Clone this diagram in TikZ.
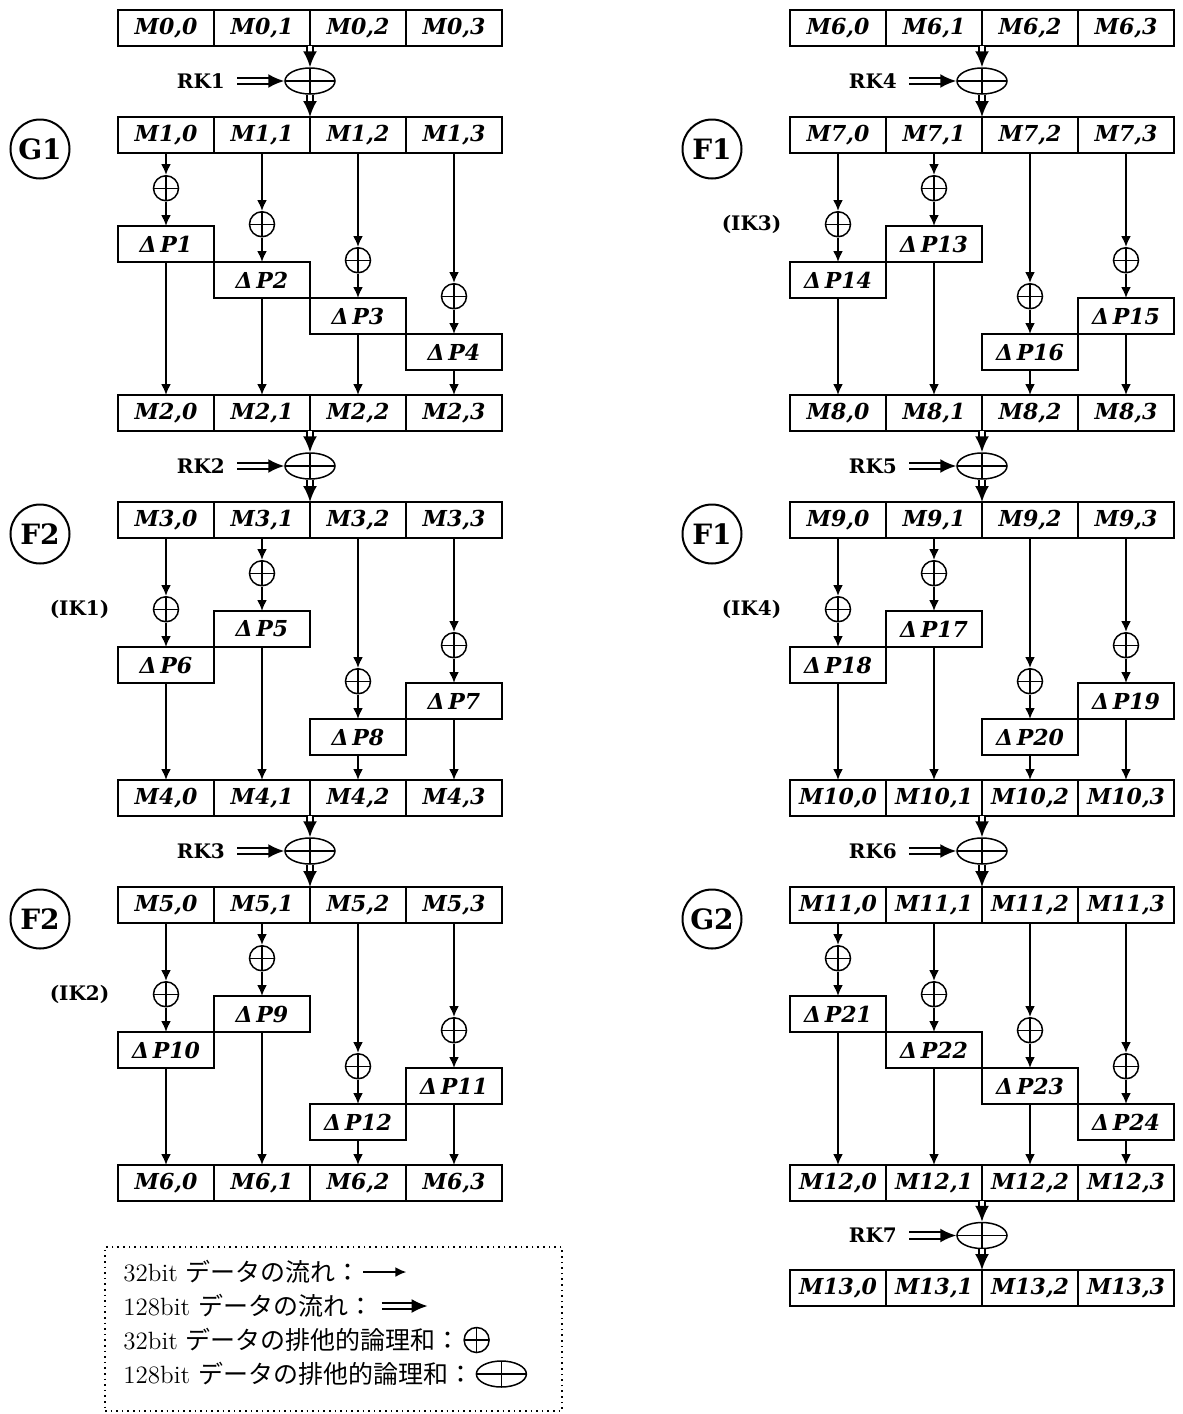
\documentclass[tikz,border=0pt]{standalone}
\usepackage{fontspec}
\newfontfamily\cellfont{DejaVu Serif}
\newfontfamily\cjk{Noto Sans CJK JP}
\usetikzlibrary{arrows.meta,shapes.geometric,positioning}
\tikzset{>={Latex[length=5.5pt,width=5pt]}}
\tikzset{
  cell/.style={draw, line width=1pt, minimum width=48pt, minimum height=18pt,
    inner sep=0pt, outer sep=0pt,
    font=\cellfont\bfseries\itshape\fontsize{11}{13}\selectfont},
  dpbox/.style={cell},
  xor/.style={draw, circle, line width=0.75pt, minimum size=12.5pt, inner sep=0pt,
    path picture={\draw[line width=0.75pt]
      (path picture bounding box.north) -- (path picture bounding box.south)
      (path picture bounding box.west) -- (path picture bounding box.east);}},
  bigxor/.style={xor, ellipse, minimum width=25pt, minimum height=13pt},
  arr/.style={->, line width=1pt},
  dblarr/.style={-{Latex[length=8pt,width=7pt]}, double, double distance=2.2pt,
    line width=1pt},
  rnd/.style={draw, circle, line width=1pt, minimum size=29.5pt, inner sep=0pt,
    font=\cellfont\bfseries\fontsize{14}{16}\selectfont},
  keylab/.style={inner sep=0pt, font=\cellfont\bfseries\fontsize{10}{12}\selectfont},
  legtxt/.style={inner sep=0pt, anchor=west, font=\fontsize{12.5}{14}\selectfont},
}

\begin{document}
\begin{tikzpicture}[x=0.5pt, y=-0.5pt]
\useasboundingbox (0,0) rectangle (1183,1414);
% data rows, left and right
\foreach \r/\t in {0/10,1/117,2/395,3/502,4/780,5/887,6/1165}
  \foreach \c in {0,...,3}
    \node[cell] (a\r-\c) at ({166+96*\c},{\t+18}) {M\r,\c};
\foreach \r/\t in {6/10,7/117,8/395,9/502,10/780,11/887,12/1165,13/1270}
  \foreach \c in {0,...,3}
    \node[cell] (b\r-\c) at ({838+96*\c},{\t+18}) {M\r,\c};
% rounds: column/level/number of each delta box
\foreach \s/\x/\r/\q/\t/\lst in {
    a/166/1/2/117/{0/0/1,1/1/2,2/2/3,3/3/4},
    a/166/3/4/502/{1/0/5,0/1/6,3/2/7,2/3/8},
    a/166/5/6/887/{1/0/9,0/1/10,3/2/11,2/3/12},
    b/838/7/8/117/{1/0/13,0/1/14,3/2/15,2/3/16},
    b/838/9/10/502/{1/0/17,0/1/18,3/2/19,2/3/20},
    b/838/11/12/887/{0/0/21,1/1/22,2/2/23,3/3/24}}
  \foreach \c/\l/\p in \lst {
    \node[dpbox] (dp\p) at ({\x+96*\c},{\t+127+36*\l}) {Δ\thinspace P\p};
    \node[xor, above=12.25pt of dp\p] (x\p) {};
    \draw[arr] (\s\r-\c) -- (x\p);
    \draw[arr] (x\p) -- (dp\p);
    \draw[arr] (dp\p) -- (\s\q-\c);
  }
% round keys
\foreach \s/\x/\r/\q/\y/\k in {a/310/0/1/81/1, a/310/2/3/466/2, a/310/4/5/851/3,
    b/982/6/7/81/4, b/982/8/9/466/5, b/982/10/11/851/6, b/982/12/13/1235.5/7} {
  \node[bigxor] (rk\k) at (\x,\y) {};
  \node[keylab, left=29.5pt of rk\k] (rklab\k) {RK\k};
  \draw[dblarr] (\s\r-1.south east) -- (rk\k);
  \draw[dblarr] (rk\k) -- (\s\q-2.north west);
  \draw[dblarr, shorten <=6pt] (rklab\k) -- (rk\k);
}
% intermediate keys
\foreach \p/\k in {6/1,10/2,14/3,18/4}
  \node[keylab, left=21.5pt of x\p] (ik\k) {(IK\k)};
% function labels
\foreach \n/\txt/\x/\y in {g1/G1/40/149, f2a/F2/40/534, f2b/F2/40/919,
    f1a/F1/712/149, f1b/F1/712/534, g2/G2/712/919}
  \node[rnd] (\n) at (\x,\y) {\txt};
% legend
\node[draw, dotted, line width=0.8pt, minimum width=228.5pt, minimum height=82pt,
  inner sep=0pt] (legend) at (333.5,1329) {};
\node[legtxt] (leg1) at (123,1272) {32bit {\cjk データの流れ：}};
\node[legtxt] (leg2) at (123,1306) {128bit {\cjk データの流れ：}};
\node[legtxt] (leg3) at (123,1340) {32bit {\cjk データの排他的論理和：}};
\node[legtxt] (leg4) at (123,1374) {128bit {\cjk データの排他的論理和：}};
\coordinate[right=1pt of leg1] (leg1a);
\coordinate[right=21.5pt of leg1a] (leg1b);
\draw[arr] (leg1a) -- (leg1b);
\coordinate[right=4pt of leg2] (leg2a);
\coordinate[right=23pt of leg2a] (leg2b);
\draw[dblarr] (leg2a) -- (leg2b);
\node[xor, right=1pt of leg3] (leg3x) {};
\node[bigxor, right=1pt of leg4] (leg4x) {};
\end{tikzpicture}
\end{document}
